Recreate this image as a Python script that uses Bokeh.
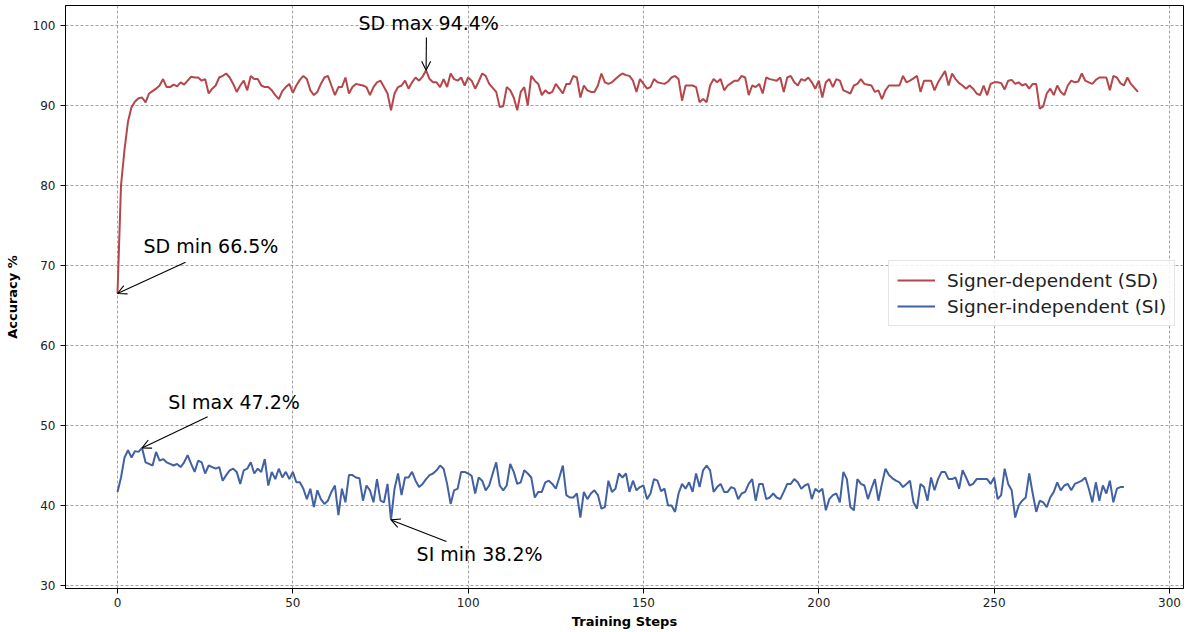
from bokeh.plotting import figure
from bokeh.models import Range1d, Label, Arrow, OpenHead, Legend, LegendItem, FixedTicker
from bokeh.embed import file_html
from bokeh.resources import INLINE

# ---------------- data ----------------
sd_acc = [66.5, 80.0, 84.5, 88.0, 89.8, 90.5, 90.9, 91.0, 90.4, 91.5,
          91.8, 92.1, 92.5, 93.3, 92.3, 92.3, 92.6, 92.4, 92.9, 92.6,
          93.1, 93.6, 93.5, 93.5, 93.1, 93.3, 91.5, 92.1, 92.5, 93.5,
          93.7, 94.0, 93.5, 92.7, 91.7, 92.5, 93.1, 91.9, 93.7, 93.3,
          93.3, 92.5, 92.3, 92.3, 91.9, 91.3, 90.8, 91.8, 92.3, 92.7,
          91.6, 92.5, 93.2, 93.7, 93.3, 91.9, 91.3, 91.7, 92.7, 93.5,
          93.7, 92.5, 91.3, 92.3, 92.3, 93.5, 91.5, 92.3, 92.7, 92.6,
          92.5, 92.3, 91.3, 92.3, 92.9, 93.1, 92.3, 91.5, 89.4, 91.5,
          92.3, 92.5, 93.1, 92.1, 92.9, 93.5, 93.1, 93.6, 94.4, 93.3,
          92.9, 92.9, 92.3, 93.3, 92.3, 94.0, 93.3, 93.1, 93.5, 92.5,
          93.5, 93.1, 92.1, 93.0, 94.0, 93.7, 92.7, 92.2, 91.7, 89.8,
          89.9, 92.3, 91.9, 91.0, 89.4, 91.7, 92.3, 90.0, 93.7, 93.1,
          92.7, 91.3, 91.9, 91.5, 91.7, 92.7, 92.1, 91.5, 92.7, 92.7,
          93.7, 93.5, 91.0, 92.5, 91.9, 91.7, 91.7, 92.5, 94.0, 92.9,
          92.7, 92.9, 93.3, 93.7, 94.0, 93.8, 93.7, 93.1, 91.7, 93.3,
          92.7, 92.1, 92.3, 93.3, 92.9, 92.8, 92.7, 93.0, 93.5, 93.7,
          93.3, 90.6, 92.5, 92.5, 92.5, 92.3, 90.4, 90.8, 90.4, 92.5,
          93.3, 92.9, 93.3, 91.9, 92.5, 92.8, 93.1, 93.1, 93.7, 93.5,
          91.3, 92.5, 92.3, 92.7, 91.5, 93.5, 93.3, 93.2, 93.1, 93.5,
          91.7, 93.5, 93.7, 92.9, 92.5, 93.3, 93.1, 93.5, 92.9, 92.1,
          93.1, 91.0, 92.9, 93.3, 92.3, 93.3, 93.1, 91.9, 91.7, 91.5,
          92.5, 92.7, 93.3, 92.7, 92.6, 92.5, 91.7, 91.9, 90.8, 91.9,
          92.5, 92.5, 92.5, 92.5, 93.7, 92.9, 93.1, 93.4, 93.7, 91.7,
          93.1, 93.1, 93.1, 91.9, 92.9, 93.6, 94.3, 92.5, 94.0, 93.3,
          92.8, 92.5, 92.1, 92.5, 92.1, 91.5, 91.3, 92.5, 91.3, 92.7,
          92.9, 92.9, 92.8, 92.0, 93.1, 93.2, 92.7, 92.9, 92.5, 92.7,
          92.1, 92.7, 92.7, 89.6, 89.9, 91.5, 92.1, 91.3, 92.5, 91.7,
          91.3, 92.5, 93.1, 92.9, 93.0, 94.0, 93.1, 92.9, 92.7, 93.2,
          93.5, 93.5, 93.5, 91.9, 93.7, 93.5, 92.8, 92.5, 93.5, 92.7,
          92.2, 91.7]

si_acc = [41.7, 43.5, 46.0, 46.9, 46.0, 46.8, 46.7, 47.2, 45.4, 45.2,
          45.0, 46.7, 45.6, 45.8, 45.4, 45.2, 45.0, 45.2, 44.8, 45.4,
          46.3, 45.2, 44.2, 45.6, 45.4, 44.0, 45.0, 44.8, 44.6, 44.8,
          43.1, 43.8, 44.4, 44.6, 44.2, 42.7, 44.4, 44.6, 45.4, 44.0,
          44.6, 44.2, 45.8, 42.5, 44.2, 43.3, 44.6, 43.5, 44.2, 43.3,
          44.2, 42.9, 42.9, 42.1, 40.8, 42.1, 39.8, 41.9, 40.8, 40.2,
          40.6, 41.7, 42.5, 38.8, 42.1, 40.4, 43.8, 43.8, 43.5, 43.4,
          40.6, 42.5, 41.9, 40.4, 43.3, 40.6, 40.4, 42.7, 38.2, 42.1,
          44.0, 41.3, 43.5, 43.5, 44.2, 43.1, 42.3, 42.7, 43.3, 43.8,
          44.0, 44.4, 45.0, 44.6, 42.7, 40.2, 41.9, 42.1, 44.2, 44.2,
          44.0, 43.7, 41.5, 43.5, 43.1, 41.9, 42.5, 44.0, 45.4, 42.5,
          41.9, 42.5, 45.2, 44.2, 42.7, 42.9, 44.4, 44.0, 43.5, 41.0,
          41.7, 41.7, 42.9, 43.1, 42.7, 42.1, 43.5, 45.0, 41.3, 41.0,
          41.0, 41.5, 38.5, 41.7, 40.8, 41.5, 41.9, 41.3, 39.6, 39.8,
          43.1, 41.7, 42.1, 44.0, 43.5, 44.0, 41.7, 43.1, 41.9, 42.3,
          42.5, 40.8, 41.5, 43.3, 43.1, 41.8, 42.1, 40.0, 40.0, 39.2,
          41.5, 42.7, 42.1, 42.9, 41.7, 44.0, 42.3, 44.4, 45.0, 44.4,
          41.7, 42.3, 42.7, 41.7, 41.7, 42.3, 42.1, 40.8, 41.5, 41.7,
          42.7, 43.3, 40.6, 42.7, 42.7, 40.8, 41.0, 41.5, 41.0, 40.8,
          41.7, 42.7, 42.7, 43.3, 42.9, 42.1, 42.5, 42.7, 40.8, 42.1,
          41.7, 42.1, 39.4, 40.8, 41.3, 41.5, 40.4, 44.2, 43.3, 39.8,
          39.4, 43.3, 42.7, 42.5, 40.8, 42.1, 43.3, 40.6, 42.7, 44.6,
          43.8, 43.4, 43.1, 42.9, 42.3, 42.7, 43.1, 40.4, 39.6, 42.7,
          42.3, 40.6, 43.5, 41.9, 43.3, 44.2, 44.2, 43.3, 43.3, 43.5,
          42.1, 44.4, 43.5, 42.5, 42.7, 43.3, 43.3, 43.3, 43.3, 42.7,
          43.5, 40.8, 41.3, 44.6, 42.7, 41.9, 38.5, 40.0, 40.6, 41.0,
          44.0, 41.5, 39.2, 40.6, 40.4, 39.8, 41.0, 41.7, 42.9, 41.9,
          42.5, 42.7, 41.9, 42.7, 42.9, 43.1, 43.5, 42.1, 40.4, 42.9,
          40.6, 42.5, 41.5, 43.1, 40.4, 42.1, 42.3, 42.3]

sd_steps = list(range(len(sd_acc)))
si_steps = list(range(len(si_acc)))

series_names = ["Signer-dependent (SD)", "Signer-independent (SI)"]
x_ticks = [0, 50, 100, 150, 200, 250, 300]
y_ticks = [30, 40, 50, 60, 70, 80, 90, 100]

# annotations: (text, point x, point y, text x, text y, arrow tail x, arrow tail y)
notes = [
    ("SD max 94.4%", 88, 94.4, 68.7, 100.3, 88.1, 98.5),
    ("SD min 66.5%", 0, 66.5, 7.4, 72.4, 19.4, 70.4),
    ("SI max 47.2%", 7, 47.2, 14.5, 53.0, 25.7, 51.1),
    ("SI min 38.2%", 78, 38.2, 85.3, 34.0, 93.8, 35.5),
]

RED = "#b5464a"
BLUE = "#4161a3"
FONT = "DejaVu Sans"

p = figure(output_backend="svg", toolbar_location=None,
           frame_width=1118, frame_height=583,
           x_range=Range1d(-14.83, 304.0), y_range=Range1d(29.625, 102.5),
           min_border_left=65, min_border_right=4, min_border_top=5, min_border_bottom=42)

p.background_fill_color = "white"
p.border_fill_color = "white"
p.outline_line_color = "black"
p.outline_line_width = 1

r_sd = p.line(sd_steps, sd_acc, line_color=RED, line_width=2)
r_si = p.line(si_steps, si_acc, line_color=BLUE, line_width=2)

for ax in (p.xaxis[0], p.yaxis[0]):
    ax.axis_line_color = "black"
    ax.major_tick_line_color = "black"
    ax.major_tick_out = 5
    ax.major_tick_in = 0
    ax.minor_tick_line_color = None
    ax.major_label_text_font = FONT
    ax.major_label_text_font_size = "12px"
    ax.major_label_text_color = "#222222"
    ax.axis_label_text_font = FONT
    ax.axis_label_text_font_size = "13px"
    ax.axis_label_text_font_style = "bold"
    ax.axis_label_text_color = "black"

p.xaxis.ticker = FixedTicker(ticks=x_ticks)
p.yaxis.ticker = FixedTicker(ticks=y_ticks)
p.xaxis.axis_label = "Training Steps"
p.yaxis.axis_label = "Accuracy %"
p.xaxis.major_label_standoff = 4
p.xaxis.axis_label_standoff = 4
p.yaxis.axis_label_standoff = 10

for g in (p.xgrid[0], p.ygrid[0]):
    g.grid_line_color = "#8a8a8a"
    g.grid_line_dash = "3 2"
    g.grid_line_width = 0.8

for txt, px_, py_, tx, ty, ax_, ay_ in notes:
    p.add_layout(Label(x=tx, y=ty, text=txt, text_font=FONT, text_font_size="19px",
                       text_align="left", text_baseline="middle", text_color="black"))
    p.add_layout(Arrow(x_start=ax_, y_start=ay_, x_end=px_, y_end=py_,
                       line_color="black", line_width=1.1,
                       end=OpenHead(size=9, line_color="black", line_width=1.1)))

legend = Legend(items=[LegendItem(label=series_names[0], renderers=[r_sd]),
                       LegendItem(label=series_names[1], renderers=[r_si])],
                location=(823, 262))
legend.label_text_font = FONT
legend.label_text_font_size = "18.5px"
legend.label_text_color = "#222222"
legend.border_line_color = "#cccccc"
legend.border_line_width = 1
legend.background_fill_alpha = 0.85
legend.glyph_width = 38
legend.glyph_height = 22
legend.label_standoff = 12
legend.label_height = 22
legend.spacing = 4
legend.padding = 8
legend.margin = 0
p.add_layout(legend)

open("out.html", "w").write(file_html(p, INLINE))
